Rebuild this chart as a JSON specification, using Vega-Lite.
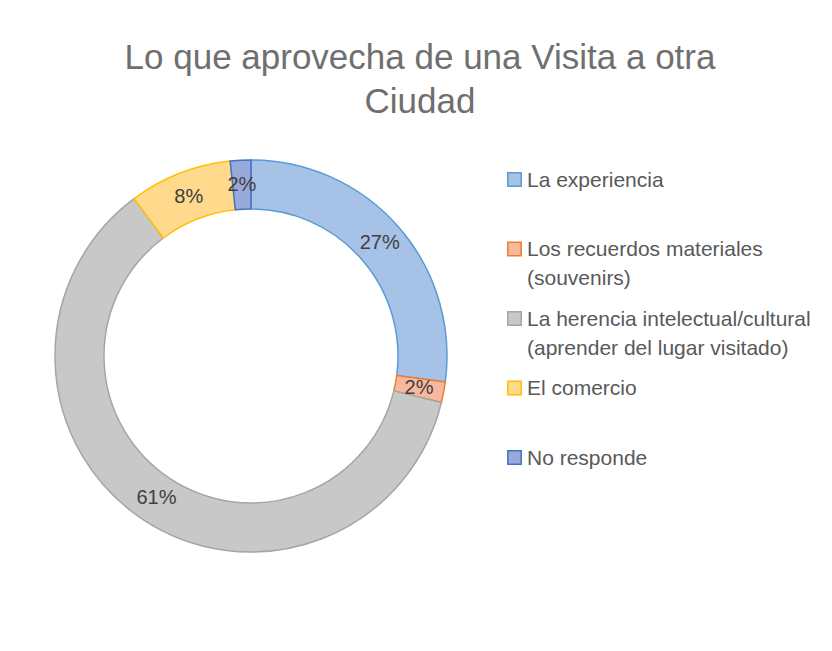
{
  "$schema": "https://vega.github.io/schema/vega-lite/v6.json",
  "width": 392,
  "height": 392,
  "autosize": {"type": "none"},
  "padding": {"left": 55, "top": 160, "right": 385, "bottom": 99},
  "background": "white",
  "config": {"view": {"stroke": null}},
  "title": {
    "text": ["Lo que aprovecha de una Visita a otra", "Ciudad"],
    "anchor": "middle",
    "frame": "group",
    "dx": 169,
    "offset": 37,
    "font": "Liberation Sans",
    "fontSize": 35,
    "fontWeight": "normal",
    "color": "#6f6f6f",
    "lineHeight": 44
  },
  "data": {
    "values": [
      {"categoria": "La experiencia", "n": 16, "orden": 1, "etiqueta": "27%"},
      {"categoria": "Los recuerdos materiales (souvenirs)", "n": 1, "orden": 2, "etiqueta": "2%"},
      {"categoria": "La herencia intelectual/cultural (aprender del lugar visitado)", "n": 36, "orden": 3, "etiqueta": "61%"},
      {"categoria": "El comercio", "n": 5, "orden": 4, "etiqueta": "8%"},
      {"categoria": "No responde", "n": 1, "orden": 5, "etiqueta": "2%"}
    ]
  },
  "encoding": {
    "theta": {"field": "n", "type": "quantitative", "stack": true},
    "order": {"field": "orden", "type": "quantitative"}
  },
  "layer": [
    {
      "mark": {"type": "arc", "outerRadius": 196, "innerRadius": 147, "strokeWidth": 1.5},
      "encoding": {
        "color": {
          "field": "categoria",
          "type": "nominal",
          "sort": null,
          "scale": {
            "domain": ["La experiencia", "Los recuerdos materiales (souvenirs)", "La herencia intelectual/cultural (aprender del lugar visitado)", "El comercio", "No responde"],
            "range": ["#a6c3e7", "#f7b89d", "#c8c8c8", "#ffd98c", "#9aa9dc"]
          },
          "legend": {
            "title": null,
            "orient": "none",
            "legendX": 449,
            "legendY": 9,
            "padding": 0,
            "symbolType": "square",
            "symbolSize": 180,
            "symbolStrokeWidth": 1.5,
            "labelFont": "Liberation Sans",
            "labelFontSize": 21,
            "labelColor": "#595959",
            "labelOffset": 2,
            "labelLimit": 400,
            "labelBaseline": "alphabetic",
            "labelExpr": "split(replace(datum.label, ' (', '|('), '|')",
            "gridAlign": "all",
            "rowPadding": 18.5,
            "encode": {
              "labels": {"update": {"dy": {"value": 7}, "lineHeight": {"value": 29}}}
            }
          }
        },
        "stroke": {
          "field": "categoria",
          "type": "nominal",
          "sort": null,
          "scale": {
            "domain": ["La experiencia", "Los recuerdos materiales (souvenirs)", "La herencia intelectual/cultural (aprender del lugar visitado)", "El comercio", "No responde"],
            "range": ["#5b9bd5", "#ed7d31", "#a5a5a5", "#ffc000", "#4472c4"]
          }
        }
      }
    },
    {
      "mark": {"type": "text", "radius": 171, "font": "Liberation Sans", "fontSize": 20, "color": "#404040"},
      "encoding": {
        "text": {"field": "etiqueta", "type": "nominal"}
      }
    }
  ]
}
